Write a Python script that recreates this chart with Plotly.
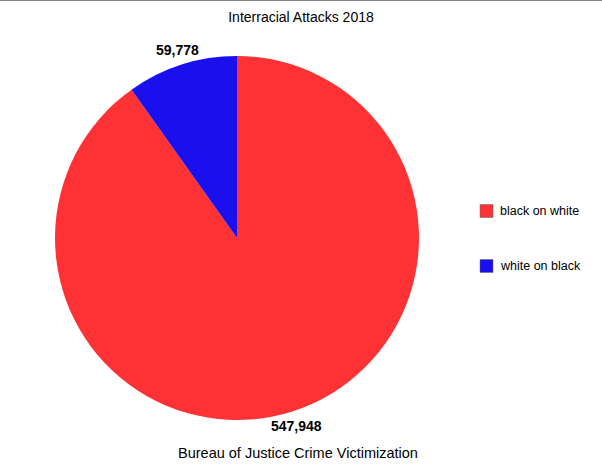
import math
import plotly.graph_objects as go

labels = ["black on white", "white on black"]
values = [547948, 59778]
colors = ["#fe3234", "#1a10ee"]

W, H = 602, 465
CX, CY, R = 237, 238, 182  # pie centre / radius in px (layout)

fig = go.Figure(go.Pie(
    labels=labels, values=values, sort=False, direction="clockwise", rotation=0,
    marker=dict(colors=colors, line=dict(width=0)),
    textinfo="none", showlegend=False, hoverinfo="label+value",
    domain=dict(x=[(CX - R)/W, (CX + R)/W], y=[(H - CY - R)/H, (H - CY + R)/H]),
))

# value labels outside each slice, at the slice's mid-angle
total = sum(values)
cum = 0
for v in values:
    mid = (cum + v / 2) / total * 2 * math.pi  # clockwise from 12 o'clock
    cum += v
    px = CX + (R + 15) * math.sin(mid)
    py = CY - (R + 15) * math.cos(mid)
    fig.add_annotation(x=px/W, y=1 - py/H, xref="paper", yref="paper", showarrow=False,
                       text=f"<b>{v:,}</b>", xanchor="center", yanchor="middle",
                       font=dict(size=14, color="black", family="Liberation Sans"))

# manual legend (wide spacing as in reference)
leg_y = [211, 266]
for i in range(len(labels)):
    yc = 1 - leg_y[i] / H
    fig.add_shape(type="rect", xref="paper", yref="paper",
                  x0=480/W, x1=493/W, y0=yc - 6.5/H, y1=yc + 6.5/H,
                  fillcolor=colors[i], line=dict(width=0.5, color="#666"))
    fig.add_annotation(x=498/W, y=yc, xref="paper", yref="paper", xanchor="left",
                       yanchor="middle", showarrow=False, text=labels[i],
                       font=dict(size=12.5, color="black", family="Liberation Sans"))

fig.add_annotation(x=0.495, y=1 - 453/H, xref="paper", yref="paper", showarrow=False,
                   text="Bureau of Justice Crime Victimization", yanchor="middle",
                   font=dict(size=14.5, color="black", family="Liberation Sans"))

fig.add_shape(type="line", xref="paper", yref="paper", x0=0, x1=1, y0=1, y1=1,
              line=dict(color="#888", width=2))

fig.update_layout(
    width=W, height=H, margin=dict(l=0, r=0, t=0, b=0),
    paper_bgcolor="white", plot_bgcolor="white",
    title=dict(text="Interracial Attacks 2018", x=0.5, xanchor="center", y=1 - 17/H,
               yanchor="middle", font=dict(size=14, color="black", family="Liberation Sans")),
)

fig.write_html("out.html", config={"displayModeBar": False},
               post_script="document.body.style.margin='0';document.body.style.padding='0';")
